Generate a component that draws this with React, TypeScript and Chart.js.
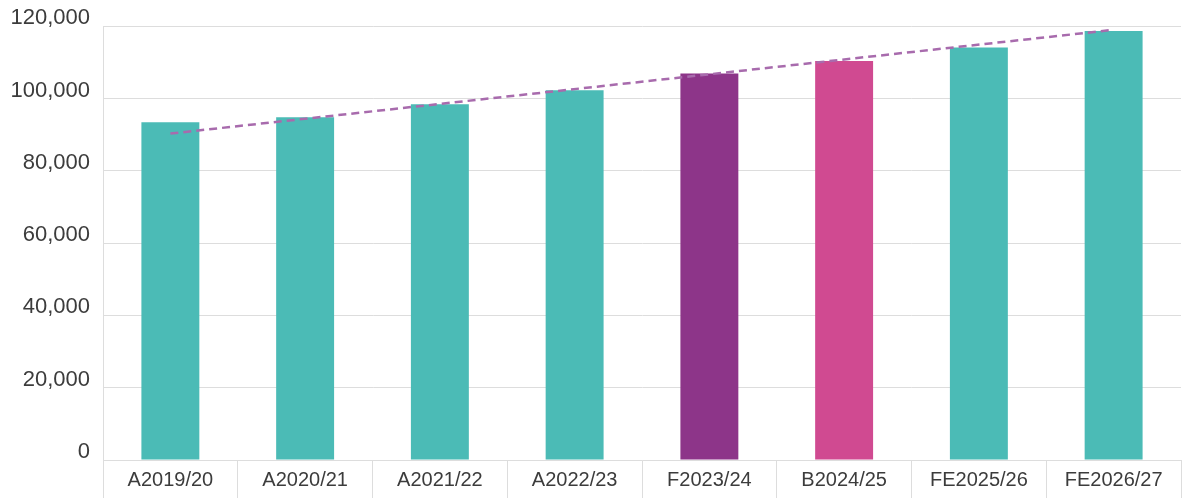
import React, { useEffect, useRef } from "react";
import { Chart, registerables } from "chart.js";

Chart.register(...registerables);

// Categories along the x axis
const categories: string[] = [
  "A2019/20",
  "A2020/21",
  "A2021/22",
  "A2022/23",
  "F2023/24",
  "B2024/25",
  "FE2025/26",
  "FE2026/27",
];

// Yearly totals
const values: number[] = [93400, 94800, 98400, 102300, 106900, 110400, 114100, 118700];

// Trend line: only its two end points, joined across the gaps
const trend: (number | null)[] = [90300, null, null, null, null, null, null, 119000];

const TEAL = "#4BBBB6";
const PURPLE = "#8D3589";
const PINK = "#D04A91";
const barColors: string[] = [TEAL, TEAL, TEAL, TEAL, PURPLE, PINK, TEAL, TEAL];

const GRID = "#DDDDDD";
const TEXT = "#3C3C3C";
const FONT = "'Liberation Sans', Arial, sans-serif";

export default function App() {
  const canvasRef = useRef<HTMLCanvasElement | null>(null);

  useEffect(() => {
    if (!canvasRef.current) return;
    const chart = new Chart(canvasRef.current, {
      type: "bar",
      data: {
        labels: categories,
        datasets: [
          {
            type: "line",
            label: "Trend",
            data: trend,
            borderColor: "#A86BAD",
            borderWidth: 2.5,
            borderDash: [8, 5],
            pointRadius: 0,
            spanGaps: true,
            fill: false,
            order: 0,
          } as any,
          {
            type: "bar",
            label: "Total",
            data: values,
            backgroundColor: barColors,
            borderWidth: 0,
            categoryPercentage: 1,
            barPercentage: 0.43,
            order: 1,
          },
        ],
      },
      options: {
        animation: false,
        responsive: true,
        maintainAspectRatio: false,
        layout: { padding: { top: 24, right: 9, bottom: 0, left: 0 } },
        plugins: {
          legend: { display: false },
          tooltip: { enabled: false },
        },
        scales: {
          x: {
            offset: true,
            grid: {
              offset: true,
              drawOnChartArea: false,
              drawTicks: true,
              tickLength: 38,
              color: GRID,
            },
            border: { display: true, color: GRID },
            ticks: {
              padding: -30,
              color: TEXT,
              font: { family: FONT, size: 20 },
              maxRotation: 0,
              autoSkip: false,
            },
            afterFit: (scale: any) => {
              scale.height = 38;
            },
          },
          y: {
            min: 0,
            max: 120000,
            ticks: {
              stepSize: 20000,
              padding: 13,
              labelOffset: -8,
              color: TEXT,
              font: { family: FONT, size: 22 },
              callback: (v: any) => Number(v).toLocaleString("en-US"),
            },
            grid: { color: GRID, drawTicks: false },
            border: { display: true, color: GRID },
            afterFit: (scale: any) => {
              scale.width = 103;
            },
          },
        },
      },
    });
    return () => chart.destroy();
  }, []);

  return (
    <div
      style={{
        position: "fixed",
        left: 0,
        top: 0,
        width: 1190,
        height: 498,
        background: "#FFFFFF",
      }}
    >
      <canvas ref={canvasRef} />
    </div>
  );
}
